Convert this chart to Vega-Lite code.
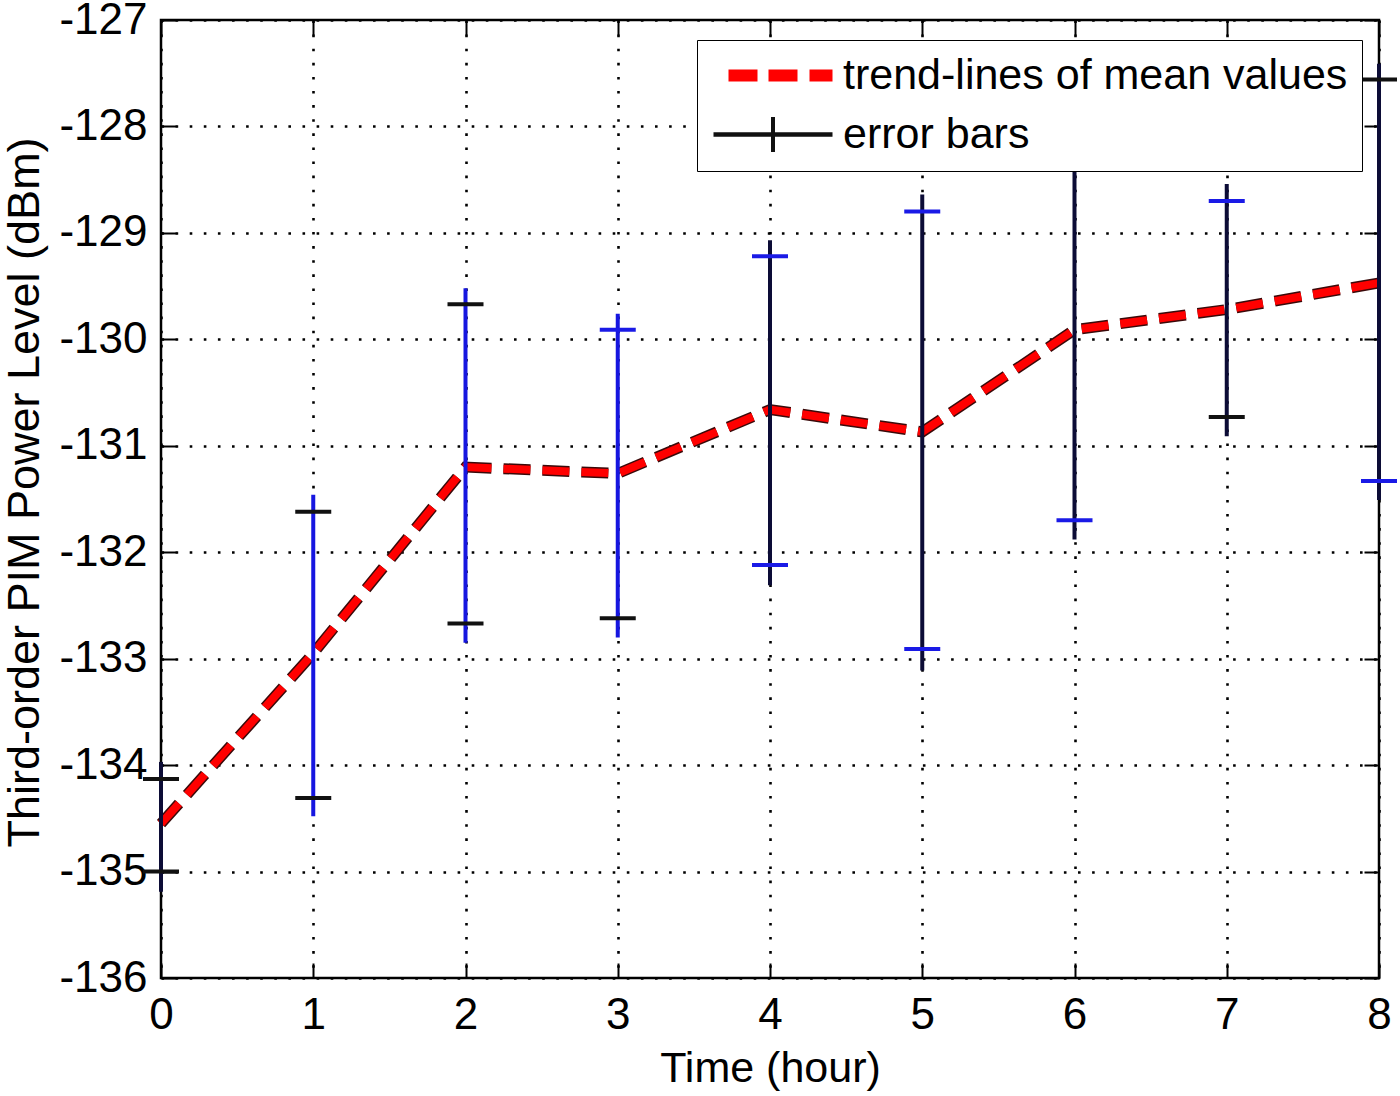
{
  "$schema": "https://vega.github.io/schema/vega-lite/v6.json",
  "autosize": {"type": "none"},
  "width": 1218,
  "height": 958,
  "padding": {"left": 161, "top": 20, "right": 21, "bottom": 118},
  "background": "white",
  "config": {
    "font": "Liberation Sans",
    "view": {"stroke": "#000000", "strokeWidth": 2.5},
    "axis": {
      "tickColor": "#000000",
      "tickWidth": 2,
      "tickSize": -15,
      "domain": false,
      "labelFlush": false,
      "labelOverlap": false,
      "labelColor": "#000000",
      "titleColor": "#000000",
      "labelFont": "Liberation Sans",
      "titleFont": "Liberation Sans",
      "labelFontSize": 44,
      "titleFontSize": 43,
      "titleFontWeight": "normal",
      "gridColor": "#000000",
      "gridOpacity": 1,
      "gridWidth": 2.6,
      "gridDash": [2.6, 11.5]
    }
  },
  "data": {
    "values": [
      {"t": 0, "mean": -134.55, "cap_hi": -134.13, "cap_lo": -135.0, "bar_hi": -133.97, "bar_lo": -135.19},
      {"t": 1, "mean": -132.95, "cap_hi": -131.62, "cap_lo": -134.31, "bar_hi": -131.46, "bar_lo": -134.48},
      {"t": 2, "mean": -131.2, "cap_hi": -129.67, "cap_lo": -132.67, "bar_hi": -129.52, "bar_lo": -132.85},
      {"t": 3, "mean": -131.26, "cap_hi": -129.91, "cap_lo": -132.62, "bar_hi": -129.76, "bar_lo": -132.8},
      {"t": 4, "mean": -130.66, "cap_hi": -129.22, "cap_lo": -132.12, "bar_hi": -129.07, "bar_lo": -132.31},
      {"t": 5, "mean": -130.87, "cap_hi": -128.8, "cap_lo": -132.91, "bar_hi": -128.64, "bar_lo": -133.11},
      {"t": 6, "mean": -129.91, "cap_hi": -128.12, "cap_lo": -131.7, "bar_hi": -127.95, "bar_lo": -131.88},
      {"t": 7, "mean": -129.72, "cap_hi": -128.7, "cap_lo": -130.73, "bar_hi": -128.54, "bar_lo": -130.91},
      {"t": 8, "mean": -129.47, "cap_hi": -127.56, "cap_lo": -131.33, "bar_hi": -127.41, "bar_lo": -131.51}
    ]
  },
  "resolve": {"axis": {"x": "independent", "y": "independent"}},
  "layer": [
    {
      "mark": {"type": "line", "color": "#3a0a0a", "strokeWidth": 11, "strokeDash": [27, 12]},
      "encoding": {
        "x": {
          "field": "t", "type": "quantitative",
          "scale": {"domain": [0, 8], "nice": false, "zero": false},
          "axis": {
            "orient": "bottom",
            "values": [0, 1, 2, 3, 4, 5, 6, 7, 8],
            "grid": true,
            "title": "Time (hour)",
            "labelPadding": 30,
            "titleY": 103,
            "titleBaseline": "alphabetic"
          }
        },
        "y": {
          "field": "mean", "type": "quantitative",
          "scale": {"domain": [-136, -127], "nice": false, "zero": false},
          "axis": {
            "orient": "left",
            "values": [-136, -135, -134, -133, -132, -131, -130, -129, -128, -127],
            "grid": true,
            "labelExpr": "'-' + abs(datum.value)",
            "labelPadding": 29,
            "title": "Third-order PIM Power Level (dBm)",
            "titleFontSize": 45,
            "titleX": -137,
            "titleY": 472,
            "titleAngle": -90,
            "titleAlign": "center",
            "titleBaseline": "middle"
          }
        }
      }
    },
    {
      "mark": {"type": "line", "color": "#ff0000", "strokeWidth": 8, "strokeDash": [27, 12]},
      "encoding": {
        "x": {
          "field": "t", "type": "quantitative",
          "axis": {"orient": "top", "values": [0, 1, 2, 3, 4, 5, 6, 7, 8], "labels": false, "grid": false, "title": null}
        },
        "y": {
          "field": "mean", "type": "quantitative",
          "axis": {"orient": "right", "values": [-136, -135, -134, -133, -132, -131, -130, -129, -128, -127], "labels": false, "grid": false, "title": null}
        }
      }
    },
    {
      "mark": {"type": "rule", "strokeWidth": 4},
      "encoding": {
        "x": {"field": "t", "type": "quantitative", "axis": null},
        "y": {"field": "bar_lo", "type": "quantitative", "axis": null},
        "y2": {"field": "bar_hi"},
        "color": {
          "condition": {"test": "datum.t >= 1 && datum.t <= 3", "value": "#1616e0"},
          "value": "#0c0c36"
        }
      }
    },
    {
      "mark": {"type": "tick", "orient": "horizontal", "size": 36, "thickness": 4, "opacity": 1},
      "encoding": {
        "x": {"field": "t", "type": "quantitative", "axis": null},
        "y": {"field": "cap_hi", "type": "quantitative", "axis": null},
        "color": {
          "condition": {"test": "datum.t >= 3 && datum.t <= 7", "value": "#1a1ae6"},
          "value": "#111111"
        }
      }
    },
    {
      "mark": {"type": "tick", "orient": "horizontal", "size": 36, "thickness": 4, "opacity": 1},
      "encoding": {
        "x": {"field": "t", "type": "quantitative", "axis": null},
        "y": {"field": "cap_lo", "type": "quantitative", "axis": null},
        "color": {
          "condition": {"test": "datum.t >= 4 && datum.t != 7", "value": "#1a1ae6"},
          "value": "#111111"
        }
      }
    },
    {
      "data": {
        "values": [
          {"series": "trend-lines of mean values"},
          {"series": "error bars"}
        ]
      },
      "mark": {"type": "point", "filled": true, "opacity": 0},
      "encoding": {
        "shape": {
          "field": "series", "type": "nominal",
          "scale": {
            "domain": ["trend-lines of mean values", "error bars"],
            "range": [
              "M-0.2,-0.3H1.25V0.3H-0.2Z M1.8,-0.3H3.25V0.3H1.8Z M3.85,-0.3H5V0.3H3.85Z",
              "M-0.95,-0.11H5V0.11H-0.95Z M1.925,-0.875H2.125V0.875H1.925Z"
            ]
          },
          "legend": {
            "title": null,
            "orient": "none",
            "legendX": 536,
            "legendY": 20,
            "padding": 14,
            "rowPadding": 15,
            "labelOffset": 89,
            "labelFontSize": 43,
            "labelFont": "Liberation Sans",
            "labelColor": "#000000",
            "labelLimit": 700,
            "symbolSize": 1600,
            "symbolOpacity": 1,
            "symbolStrokeColor": "#2a0000",
            "symbolStrokeWidth": 1.5,
            "fillColor": "#ffffff",
            "strokeColor": "#000000",
            "encode": {"legend": {"update": {"strokeWidth": {"value": 2}}}}
          }
        },
        "color": {
          "field": "series", "type": "nominal",
          "scale": {
            "domain": ["trend-lines of mean values", "error bars"],
            "range": ["#ff0000", "#111111"]
          }
        }
      }
    }
  ]
}
